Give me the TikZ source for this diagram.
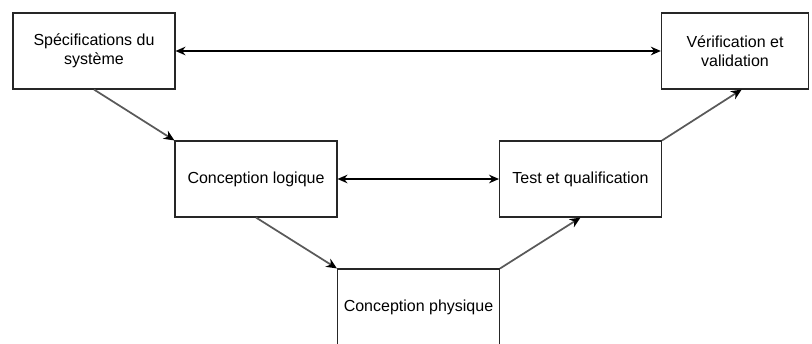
\documentclass[tikz,border=0pt]{standalone}
\usepackage{fontspec}
\setmainfont{Liberation Sans}
\usetikzlibrary{arrows.meta}
\tikzset{
	etape/.style={draw=black!85, line width=0.8pt, fill=white, minimum width=121.5pt, minimum height=57pt, align=center, inner sep=2pt, font=\fontsize{12}{14.25}\selectfont},
	lien/.style={draw=black!65, line width=1.3pt, -{Stealth[length=8pt,width=7pt,inset=2.5pt,black]}},
	lien2/.style={draw=black, line width=0.9pt, {Stealth[length=7.5pt,width=6.5pt,inset=2.5pt]}-{Stealth[length=7.5pt,width=6.5pt,inset=2.5pt]}}
}

\begin{document}
\begin{tikzpicture}[x=0.75pt,y=-0.75pt]
	%%%%% START %%%%%
	\useasboundingbox (0,0) rectangle (812,343);
	\clip (0,0) rectangle (812,343);
	
	\node[etape] (spec) at (94,51) {Spécifications du\\système};
	\node[etape, minimum width=110.5pt] (verif) at (735,51) {Vérification et\\validation};
	\node[etape] (logique) at (256,179) {Conception logique};
	\node[etape] (test) at (580.5,179) {Test et qualification};
	\node[etape] (physique) at (418.5,307) {Conception physique};
	
	\draw[lien2] (spec.east) -- (verif.west);
	\draw[lien2] (logique.east) -- (test.west);
	
	\draw[lien] (spec.south) -- (logique.north west);
	\draw[lien] (logique.south) -- (physique.north west);
	\draw[lien] (physique.north east) -- (test.south);
	\draw[lien] (test.north east) -- ([xshift=5pt]verif.south);
	%%%%% END %%%%%
\end{tikzpicture}
\end{document}
